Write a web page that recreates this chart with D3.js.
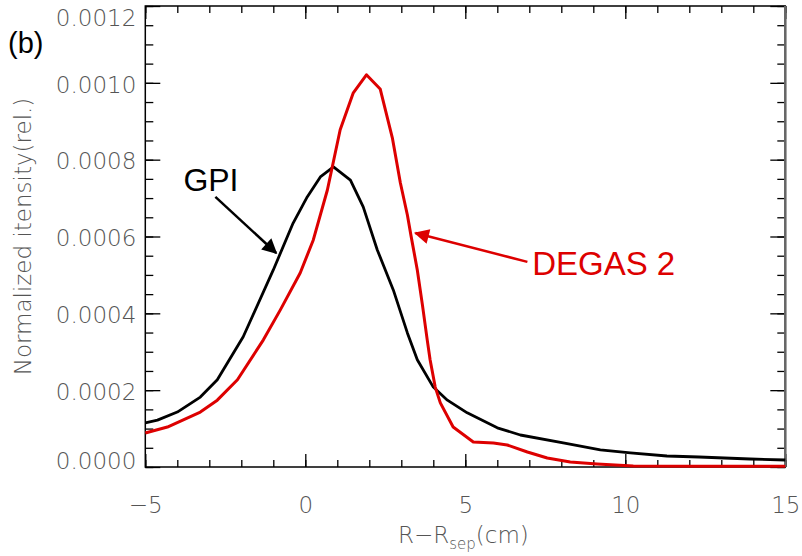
<html>
<head>
<meta charset="utf-8">
<title>GPI vs DEGAS 2</title>
<style type="text/css">
body { margin: 0; background: #fff; }
.tick text { font-family: "DejaVu Sans", sans-serif; font-weight: 200; fill: #555; }
</style>
</head>
<body>
<script src="https://d3js.org/d3.v7.min.js"></script>
<script>

// profiles (R - Rsep in cm, normalized intensity)
var gpiR = [-5, -4.62, -4.0, -3.28, -2.75, -1.94, -1.0, -0.38, 0.06, 0.47, 0.88, 1.41, 1.81, 2.25, 2.75, 3.19, 3.5, 4.0, 4.44, 5.06, 6.0, 6.72, 8.06, 9.22, 10.16, 11.3, 12.3, 13.9, 15];
var gpiI = [0.000115, 0.000122, 0.000143, 0.000182, 0.000227, 0.000339, 0.000513, 0.000635, 0.000703, 0.000755, 0.000781, 0.000747, 0.000677, 0.000565, 0.000461, 0.000349, 0.000279, 0.000208, 0.000174, 0.000141, 0.000102, 0.0000833, 0.0000625, 0.0000443, 0.0000365, 0.0000286, 0.000026, 0.0000208, 0.0000182];

var degasR = [-5, -4.31, -3.28, -2.75, -2.12, -1.31, -0.78, -0.16, 0.25, 0.69, 1.09, 1.5, 1.91, 2.34, 2.72, 2.97, 3.19, 3.31, 3.5, 3.66, 3.81, 3.9, 4.06, 4.22, 4.62, 5.25, 5.88, 6.31, 6.94, 7.56, 8.28, 9.12, 10.25, 12.3, 15];
var degasI = [0.0000885, 0.000104, 0.000143, 0.000174, 0.000227, 0.000331, 0.000409, 0.000505, 0.000591, 0.000721, 0.000878, 0.000974, 0.001021, 0.000984, 0.000857, 0.00074, 0.000656, 0.000599, 0.000513, 0.000422, 0.000331, 0.000279, 0.000208, 0.000167, 0.000104, 0.0000651, 0.0000625, 0.0000573, 0.0000391, 0.0000234, 0.000013, 0.0000078, 0.0000026, 0.000002, 0.000002];

var xMajor = [-5, 0, 5, 10, 15];
var xMinor = d3.range(-5, 16, 1);
var yMajor = [0, 0.0002, 0.0004, 0.0006, 0.0008, 0.0010, 0.0012];
var yMinor = d3.range(0, 0.00121, 0.00005);

var W = 802, H = 556;

var x = d3.scaleLinear().domain([-5, 15]).range([145.3, 785.3]);
var y = d3.scaleLinear().domain([0, 0.0012]).range([467, 6]);

var svg = d3.select("body").append("svg")
    .attr("width", W)
    .attr("height", H);

// arrow heads
var defs = svg.append("defs");
[["ahBlack", "#000"], ["ahRed", "#dd0000"]].forEach(function(m) {
  defs.append("marker")
      .attr("id", m[0])
      .attr("viewBox", "0 0 10 10")
      .attr("refX", 9).attr("refY", 5)
      .attr("markerWidth", 7).attr("markerHeight", 6)
      .attr("markerUnits", "strokeWidth")
      .attr("orient", "auto")
    .append("path")
      .attr("d", "M0,0 L10,5 L0,10 Z")
      .attr("fill", m[1]);
});

function noLabels() { return ""; }

// minor ticks all round
svg.append("g").attr("transform", "translate(0,467)")
    .call(d3.axisTop(x).tickValues(xMinor).tickSize(7).tickFormat(noLabels));
svg.append("g").attr("transform", "translate(0,6)")
    .call(d3.axisBottom(x).tickValues(xMinor).tickSize(7).tickFormat(noLabels));
svg.append("g").attr("transform", "translate(145.3,0)")
    .call(d3.axisRight(y).tickValues(yMinor).tickSize(8).tickFormat(noLabels));
svg.append("g").attr("transform", "translate(785.3,0)")
    .call(d3.axisLeft(y).tickValues(yMinor).tickSize(8).tickFormat(noLabels));

// major ticks
svg.append("g").attr("transform", "translate(0,467)")
    .call(d3.axisTop(x).tickValues(xMajor).tickSize(13).tickFormat(noLabels));
svg.append("g").attr("transform", "translate(0,6)")
    .call(d3.axisBottom(x).tickValues(xMajor).tickSize(13).tickFormat(noLabels));
svg.append("g").attr("transform", "translate(145.3,0)")
    .call(d3.axisRight(y).tickValues(yMajor).tickSize(15).tickFormat(noLabels));
svg.append("g").attr("transform", "translate(785.3,0)")
    .call(d3.axisLeft(y).tickValues(yMajor).tickSize(15).tickFormat(noLabels));

svg.selectAll(".domain").remove();
svg.selectAll(".tick line").attr("stroke", "#000").attr("stroke-width", 1.3);

// tick labels
var xl = svg.append("g").attr("transform", "translate(0,467)")
    .call(d3.axisBottom(x).tickValues(xMajor).tickSize(0).tickPadding(30)
      .tickFormat(function(d) { return d < 0 ? "\u2212" + (-d) : d; }));
xl.select(".domain").remove();
xl.selectAll("text").style("font-size", "23px");

var yl = svg.append("g").attr("transform", "translate(145.3,0)")
    .call(d3.axisLeft(y).tickValues(yMajor).tickSize(0).tickPadding(9)
      .tickFormat(d3.format(".4f")));
yl.select(".domain").remove();
yl.selectAll("text").style("font-size", "23px")
    .attr("dy", function(d) { return d === 0.0012 ? "0.85em" : (d === 0 ? "0.05em" : "0.4em"); });

// frame
svg.append("rect")
    .attr("x", 145.3).attr("y", 6)
    .attr("width", 640).attr("height", 461)
    .attr("fill", "none").attr("stroke", "#000").attr("stroke-width", 1.5);
svg.append("line")
    .attr("x1", 785.3).attr("x2", 785.3).attr("y1", 6).attr("y2", 467)
    .attr("stroke", "#666").attr("stroke-width", 2.5);

// curves
var line = d3.line()
    .x(function(d) { return x(d[0]); })
    .y(function(d) { return y(d[1]); });

svg.append("path")
    .datum(d3.zip(gpiR, gpiI))
    .attr("d", line)
    .attr("fill", "none").attr("stroke", "#000").attr("stroke-width", 2.8)
    .attr("stroke-linejoin", "round");

svg.append("path")
    .datum(d3.zip(degasR, degasI))
    .attr("d", line)
    .attr("fill", "none").attr("stroke", "#dd0000").attr("stroke-width", 3)
    .attr("stroke-linejoin", "round");

// axis titles
svg.append("text")
    .attr("transform", "translate(31," + ((6 + 467) / 2) + ") rotate(-90)")
    .attr("text-anchor", "middle")
    .style("font-family", "DejaVu Sans, sans-serif")
    .style("font-weight", 200)
    .style("font-size", "23px")
    .style("fill", "#555")
    .text("Normalized itensity(rel.)");

var xt = svg.append("text")
    .attr("x", 398).attr("y", 543)
    .style("font-family", "DejaVu Sans, sans-serif")
    .style("font-weight", 200)
    .style("font-size", "23px")
    .style("fill", "#555");
xt.append("tspan").text("R\u2212R");
xt.append("tspan").attr("dy", 6).style("font-size", "15px").text("sep");
xt.append("tspan").attr("dy", -6).text("(cm)");

// panel label and annotations
svg.append("text")
    .attr("x", 8).attr("y", 53)
    .style("font-family", "Liberation Sans, Arial, sans-serif")
    .style("font-size", "29px")
    .text("(b)");

svg.append("text")
    .attr("x", x(-3.81)).attr("y", y(0.000719))
    .style("font-family", "Liberation Sans, Arial, sans-serif")
    .style("font-size", "32px")
    .text("GPI");

svg.append("line")
    .attr("x1", x(-2.81)).attr("y1", y(0.000703))
    .attr("x2", x(-0.91)).attr("y2", y(0.000557))
    .attr("stroke", "#000").attr("stroke-width", 2.5)
    .attr("marker-end", "url(#ahBlack)");

svg.append("text")
    .attr("x", x(7.09)).attr("y", y(0.0005))
    .style("font-family", "Liberation Sans, Arial, sans-serif")
    .style("font-size", "33px")
    .style("fill", "#dd0000")
    .text("DEGAS 2");

svg.append("line")
    .attr("x1", x(6.94)).attr("y1", y(0.000534))
    .attr("x2", x(3.44)).attr("y2", y(0.000609))
    .attr("stroke", "#dd0000").attr("stroke-width", 2.5)
    .attr("marker-end", "url(#ahRed)");

</script>
</body>
</html>
